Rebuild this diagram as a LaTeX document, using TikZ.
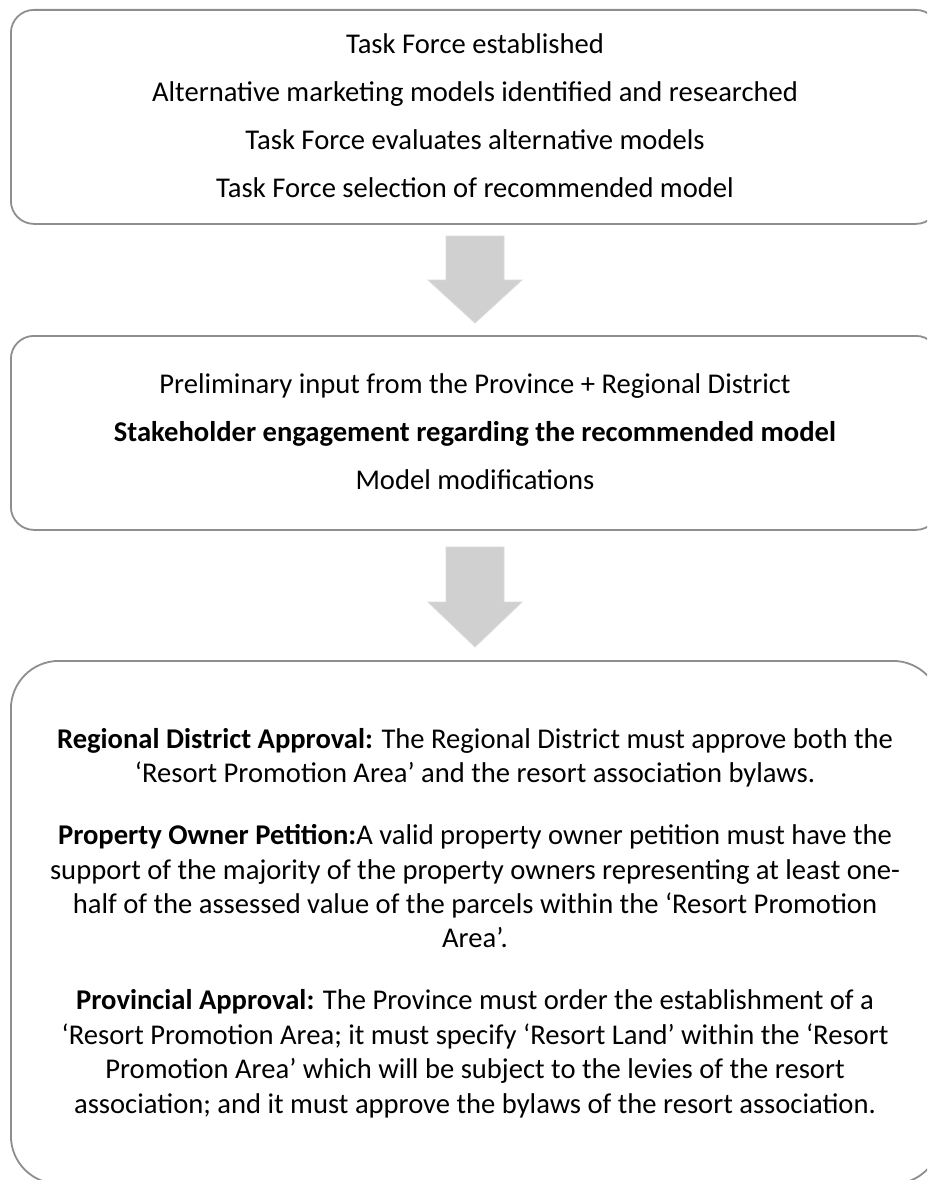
\documentclass[tikz,border=0pt]{standalone}
\usepackage{fontspec}
\setmainfont{Carlito}
\definecolor{edgegray}{HTML}{8E8E8E}
\definecolor{arrowgray}{HTML}{D0D0D0}
\definecolor{arrowedge}{HTML}{DADADA}

\begin{document}
\begin{tikzpicture}[x=1pt,y=-1pt,
  panel/.style={draw=edgegray, line width=1.8pt, fill=white, inner sep=0pt,
                anchor=north west},
  stagetext/.style={align=center, inner sep=0pt,
                    font=\fontsize{28.6}{48}\selectfont},
  notetext/.style={align=center, inner sep=0pt,
                   font=\fontsize{28.6}{34.4}\selectfont},
  blockarrow/.style={fill=arrowgray, draw=arrowedge, line width=0.8pt}]
\useasboundingbox (0,0) rectangle (927,1180);
\clip (0,0) rectangle (927,1180);

% stage panels
\node[panel, rounded corners=23pt, minimum width=928pt, minimum height=214pt]
  (p1) at (10,9) {};
\node[panel, rounded corners=23pt, minimum width=928pt, minimum height=194pt]
  (p2) at (10,335) {};
\node[panel, rounded corners=48pt, minimum width=930pt, minimum height=523pt]
  (p3) at (10,660) {};

% stage texts
\node[stagetext] (t1) at (475,116)
  {Task Force established\\
   Alternative marketing models identified and researched\\
   Task Force evaluates alternative models\\
   Task Force selection of recommended model};

\node[stagetext] (t2) at (475,432)
  {Preliminary input from the Province + Regional District\\
   \textbf{Stakeholder engagement regarding the recommended model}\\
   Model modifications};

\node[notetext] (t3) at (475,923)
  {\textbf{Regional District Approval:} The Regional District must approve both the\\
   ‘Resort Promotion Area’ and the resort association bylaws.\\[27.6pt]
   \textbf{Property Owner Petition:}A valid property owner petition must have the\\
   support of the majority of the property owners representing at least one-\\
   half of the assessed value of the parcels within the ‘Resort Promotion\\
   Area’.\\[27.6pt]
   \textbf{Provincial Approval:} The Province must order the establishment of a\\
   ‘Resort Promotion Area; it must specify ‘Resort Land’ within the ‘Resort\\
   Promotion Area’ which will be subject to the levies of the resort\\
   association; and it must approve the bylaws of the resort association.};

% block arrows between the stages
\coordinate (a1) at (475,236);
\coordinate (a2) at (475,547);
\draw[blockarrow] (a1) ++(-29,0) -- ++(58,0) -- ++(0,44) -- ++(18,0)
  -- (475,323) -- (428,280) -- ++(18,0) -- cycle;
\draw[blockarrow] (a2) ++(-29,0) -- ++(58,0) -- ++(0,55) -- ++(18,0)
  -- (475,647) -- (428,602) -- ++(18,0) -- cycle;
\end{tikzpicture}
\end{document}
